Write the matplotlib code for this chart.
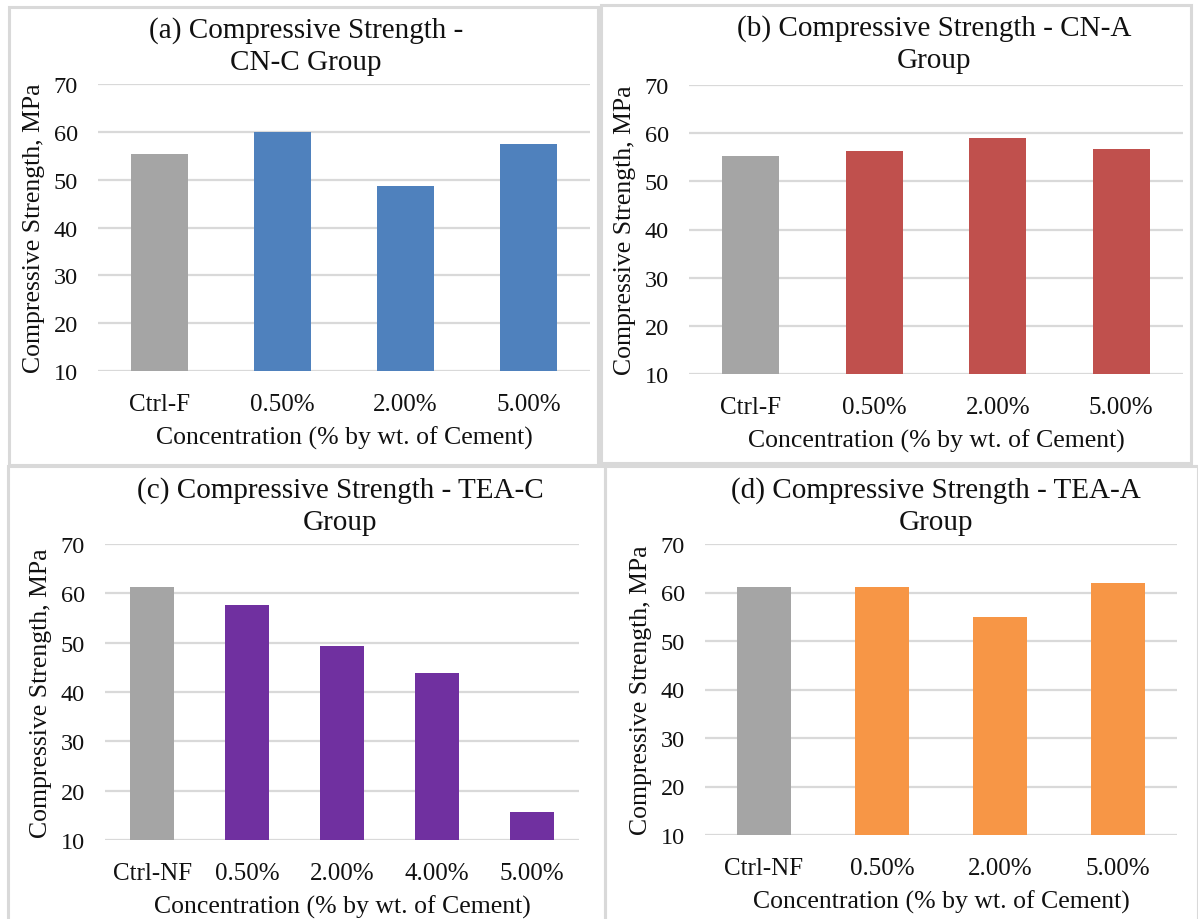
import matplotlib
matplotlib.use('Agg')
import matplotlib.pyplot as plt
from matplotlib.patches import Rectangle

plt.rcParams['font.family'] = ['Liberation Serif', 'DejaVu Serif']

# Compressive strength (MPa) per group
cats_a = ['Ctrl-F', '0.50%', '2.00%', '5.00%']
vals_a = [55.3, 60.0, 48.7, 57.4]

cats_b = ['Ctrl-F', '0.50%', '2.00%', '5.00%']
vals_b = [55.2, 56.4, 59.0, 56.8]

cats_c = ['Ctrl-NF', '0.50%', '2.00%', '4.00%', '5.00%']
vals_c = [61.2, 57.7, 49.4, 43.9, 15.6]

cats_d = ['Ctrl-NF', '0.50%', '2.00%', '5.00%']
vals_d = [61.2, 61.1, 54.9, 61.9]

titles = ['(a) Compressive Strength -\nCN-C Group',
          '(b) Compressive Strength - CN-A\nGroup',
          '(c) Compressive Strength - TEA-C\nGroup',
          '(d) Compressive Strength - TEA-A\nGroup']

GRAY = '#A5A5A5'
colors = ['#4F81BD', '#C0504D', '#7030A0', '#F79646']
TXT = '#111111'

W, H = 1198, 920
fig = plt.figure(figsize=(W / 100, H / 100), dpi=100)

# panel frames (pixels: x0, y0, x1, y1)
frames = [(8.5, 8, 598, 466), (600.5, 5.5, 1191, 464),
          (8, 467, 605, 925), (605, 467, 1198, 925)]
for x0, y0, x1, y1 in frames:
    fig.patches.append(Rectangle((x0 / W, 1 - y1 / H), (x1 - x0) / W, (y1 - y0) / H,
                                 transform=fig.transFigure, fill=False,
                                 edgecolor='#d9d9d9', linewidth=2.2, zorder=0))

# plot areas (pixels: left, top, right, bottom)
boxes = [(98, 85, 590, 372), (689, 86, 1183, 375),
         (105, 545, 579, 841), (705, 545, 1177, 836)]
# title block centres (pixels)
title_pos = [(306, 47), (934, 45), (340, 507), (936, 507)]

data = [(cats_a, vals_a), (cats_b, vals_b), (cats_c, vals_c), (cats_d, vals_d)]

for i, ((cats, vals), (l, t, r, b)) in enumerate(zip(data, boxes)):
    ax = fig.add_axes([l / W, 1 - b / H, (r - l) / W, (b - t) / H])
    x = range(len(cats))
    bar_colors = [GRAY] + [colors[i]] * (len(cats) - 1)
    ax.bar(x, [v - 10 for v in vals], bottom=10, width=0.463, color=bar_colors, zorder=3)
    ax.set_xlim(-0.5, len(cats) - 0.5)
    ax.set_ylim(10, 70)
    ax.set_yticks(range(10, 71, 10))
    ax.set_xticks(list(x))
    ax.set_xticklabels(cats)
    ax.grid(axis='y', color='#d9d9d9', linewidth=1.6, zorder=0)
    for s in ax.spines.values():
        s.set_visible(False)
    ax.tick_params(length=0, colors=TXT)
    ax.tick_params(axis='y', pad=14.5, labelsize=17.5)
    ax.tick_params(axis='x', pad=15.5, labelsize=18)
    ax.set_ylabel('Compressive Strength, MPa', fontsize=18.5, color=TXT, labelpad=6)
    ax.set_xlabel('Concentration (% by wt. of Cement)', fontsize=18.5, color=TXT, labelpad=8)
    tx, ty = title_pos[i]
    fig.text(tx / W, 1 - ty / H, titles[i], fontsize=21, color=TXT,
             ha='center', va='center', linespacing=1.3)

fig.savefig('out.png', dpi=100, facecolor='white')
